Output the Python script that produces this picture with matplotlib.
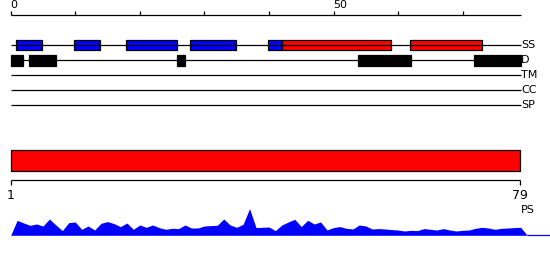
import matplotlib
matplotlib.use('Agg')
import matplotlib.pyplot as plt
import numpy as np
from matplotlib.patches import Rectangle

# sequence features (residue positions)
seq_len = 79
helix = [(0.8, 4.9), (9.8, 13.9), (17.9, 25.8), (27.8, 34.9), (39.9, 42.0)]
strand = [(42.0, 58.9), (61.9, 73.0)]
disorder = [(0.0, 1.9), (2.8, 7.0), (25.8, 27.0), (53.8, 62.0), (71.8, 79.0)]
track_names = ['SS', 'D', 'TM', 'CC', 'SP']
ruler_ticks = [0, 10, 20, 30, 40, 50, 60, 70]
ruler_labels = ['0', '', '', '', '', '50', '', '']
ps_region = (1, 79)
ps_ticks = [1, 79]
profile = [15, 12.3, 10, 11.3, 9.3, 16.3, 10.3, 4.7, 12.7, 13.3,
           6, 9.3, 5.3, 12, 13.7, 11.7, 8.7, 12.3, 6, 10.3,
           8, 10.3, 7.7, 6, 7, 6.7, 10.3, 7.3, 7.3, 9.3,
           9.7, 10, 16.3, 10.3, 8, 11, 26.7, 7.7, 8, 8.3,
           4.7, 10.3, 13.3, 16, 8.7, 15, 11.3, 13.3, 5.3, 7.7,
           8.7, 7, 6.3, 10.3, 9.3, 6.3, 6.7, 6.3, 5.7, 5.3,
           4.3, 5, 4.7, 6.7, 6, 5.3, 6.7, 5.3, 4.3, 5,
           5.3, 7, 8, 7.3, 6, 7, 7.3, 7.7, 8]

W, H = 550, 260
x0 = 10.7          # pixel of the first position
ppu = 6.456        # pixels per residue (top ruler)
ppu_b = (520 - x0) / 78.0

fig = plt.figure(figsize=(W / 100, H / 100), dpi=100)

ax = fig.add_axes([0, 0, 1, 1])
ax.set_xlim(-x0 / ppu, (W - x0) / ppu)
ax.set_ylim(H, 0)
ax.axis('off')

lw = 0.9
fs = 8

# top ruler
ax.hlines(15, 0, seq_len, color='black', lw=lw)
ax.vlines(ruler_ticks, 10.7, 15, color='black', lw=lw)
for t, lab in zip(ruler_ticks, ruler_labels):
    if lab:
        ax.text(t, 9.5, lab, ha='left', va='bottom', fontsize=fs)

# tracks
track_y = [45, 60.3, 75.3, 90, 105.3]
for name, y in zip(track_names, track_y):
    ax.hlines(y, 0, seq_len, color='black', lw=lw)
    ax.text(seq_len + 0.05, y, name, ha='left', va='center', fontsize=fs)

for s, e in helix:
    ax.add_patch(Rectangle((s, track_y[0] - 5), e - s, 10, fc='blue', ec='black', lw=lw))
for s, e in strand:
    ax.add_patch(Rectangle((s, track_y[0] - 5), e - s, 10, fc='red', ec='black', lw=lw))
for s, e in disorder:
    ax.add_patch(Rectangle((s, track_y[1] - 5.3), e - s, 10.6, fc='black', ec='black', lw=lw))

# PS region and bottom ruler
axb = fig.add_axes([0, 0, 1, 1])
axb.patch.set_alpha(0)
axb.set_xlim(1 - x0 / ppu_b, 1 + (W - x0) / ppu_b)
axb.set_ylim(H, 0)
axb.axis('off')
axb.add_patch(Rectangle((ps_region[0], 150), ps_region[1] - ps_region[0], 20.7,
                        fc='red', ec='black', lw=lw))
axb.hlines(180.3, ps_region[0], ps_region[1], color='black', lw=lw)
axb.vlines(ps_ticks, 180.3, 185, color='black', lw=lw)
for t in ps_ticks:
    axb.text(t, 189, str(t), ha='center', va='top', fontsize=fs + 1)
axb.text(ps_region[1] + 0.1, 210, 'PS', ha='left', va='center', fontsize=fs)

# profile
axp = fig.add_axes([0, (H - 235.3) / H, 1, 30 / H])
axp.patch.set_alpha(0)
axp.set_xlim(-x0 / ppu, (W - x0) / ppu)
axp.set_ylim(0, 30)
axp.axis('off')
px = np.arange(0, len(profile) + 2)
py = [0] + profile + [0]
axp.fill_between(px, py, 0, color='blue', lw=0)
axp.hlines(0, px[-1], (W - x0) / ppu, color='blue', lw=lw, clip_on=False)

fig.savefig('out.png', dpi=100)
